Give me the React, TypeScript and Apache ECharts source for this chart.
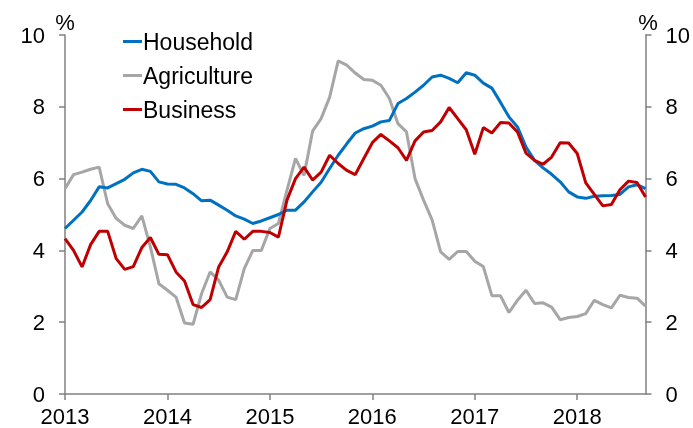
import React, { useEffect, useRef } from "react";
import * as echarts from "echarts";

// months since Jan 2013 (0 = Jan 2013 ... 68 = Sep 2018)
const household = [
  4.61, 4.84, 5.07, 5.39, 5.77, 5.74, 5.86, 5.98, 6.16, 6.26, 6.2, 5.91,
  5.85, 5.84, 5.74, 5.58, 5.38, 5.4, 5.26, 5.12, 4.96, 4.87, 4.75, 4.82,
  4.91, 5.0, 5.12, 5.12, 5.35, 5.63, 5.9, 6.28, 6.65, 6.97, 7.27, 7.39,
  7.46, 7.58, 7.62, 8.09, 8.23, 8.41, 8.6, 8.83, 8.88, 8.79, 8.67, 8.95,
  8.88, 8.66, 8.52, 8.13, 7.72, 7.44, 6.88, 6.51, 6.3, 6.12, 5.91, 5.63,
  5.49, 5.45, 5.51, 5.52, 5.53, 5.56, 5.77, 5.83, 5.72,
];
const agriculture = [
  5.72, 6.11, 6.18, 6.26, 6.32, 5.3, 4.89, 4.7, 4.61, 4.96, 4.1, 3.07,
  2.89, 2.7, 1.98, 1.94, 2.8, 3.4, 3.17, 2.7, 2.63, 3.49, 4.0, 4.0,
  4.61, 4.75, 5.67, 6.56, 6.09, 7.32, 7.67, 8.27, 9.28, 9.16, 8.94, 8.76,
  8.74, 8.6, 8.23, 7.53, 7.3, 6.0, 5.4, 4.85, 3.96, 3.75, 3.97, 3.97,
  3.7, 3.55, 2.74, 2.74, 2.27, 2.61, 2.89, 2.52, 2.54, 2.42, 2.07, 2.13,
  2.16, 2.24, 2.61, 2.49, 2.4, 2.75, 2.69, 2.67, 2.45,
];
const business = [
  4.33, 4.0, 3.54, 4.16, 4.53, 4.53, 3.77, 3.47, 3.55, 4.08, 4.36, 3.89,
  3.88, 3.4, 3.15, 2.49, 2.41, 2.63, 3.54, 3.96, 4.53, 4.31, 4.53, 4.53,
  4.5, 4.37, 5.4, 6.0, 6.32, 5.96, 6.18, 6.65, 6.42, 6.23, 6.11, 6.56,
  7.0, 7.23, 7.05, 6.86, 6.51, 7.05, 7.3, 7.34, 7.58, 7.98, 7.67, 7.36,
  6.68, 7.42, 7.27, 7.56, 7.55, 7.3, 6.71, 6.51, 6.4, 6.6, 7.0, 6.99,
  6.7, 5.88, 5.56, 5.24, 5.28, 5.69, 5.93, 5.89, 5.49,
];
const startYear = 2013;
const seriesNames = ["Household", "Agriculture", "Business"];
const colors = ["#0070C0", "#A6A6A6", "#C00000"];

const FONT = "'Liberation Sans', Arial, sans-serif";

export default function App() {
  const ref = useRef<HTMLDivElement>(null);
  useEffect(() => {
    if (!ref.current) return;
    const chart = echarts.init(ref.current, undefined, { renderer: "svg" });
    const toPairs = (arr: number[]) => arr.map((v, i) => [i, v]);
    const axisLine = { show: true, lineStyle: { color: "#808080", width: 1.5 } };
    const yAxisBase = {
      type: "value" as const,
      min: 0,
      max: 10,
      interval: 2,
      axisLine,
      axisTick: { show: true, inside: false, length: 6, lineStyle: { color: "#808080", width: 1.5 } },
      splitLine: { show: false },
      axisLabel: { color: "#000", fontSize: 22, fontFamily: FONT, margin: 20 },
    };
    chart.setOption({
      animation: false,
      textStyle: { fontFamily: FONT },
      grid: { left: 65, right: 45, top: 35, bottom: 34, containLabel: false },
      legend: {
        orient: "vertical",
        left: 118,
        top: 25,
        itemWidth: 19,
        itemHeight: 3,
        itemGap: 11,
        icon: "rect",
        data: seriesNames,
        textStyle: { color: "#000", fontSize: 23, fontFamily: FONT, padding: [0, 0, 0, -4], lineHeight: 22 },
      },
      xAxis: {
        type: "value",
        min: 0,
        max: 68,
        interval: 12,
        axisLine,
        axisTick: { show: true, length: 6, lineStyle: { color: "#808080", width: 1.5 } },
        splitLine: { show: false },
        axisLabel: {
          color: "#000",
          fontSize: 22,
          fontFamily: FONT,
          margin: 11,
          showMaxLabel: false,
          formatter: (v: number) => (v % 12 === 0 ? String(startYear + v / 12) : ""),
        },
      },
      yAxis: [
        { ...yAxisBase, position: "left" },
        { ...yAxisBase, position: "right" },
      ],
      graphic: [
        { type: "text", x: 65, y: 22, style: { text: "%", fontSize: 22, fontFamily: FONT, fill: "#000", align: "center", verticalAlign: "middle" } },
        { type: "text", x: 648, y: 22, style: { text: "%", fontSize: 22, fontFamily: FONT, fill: "#000", align: "center", verticalAlign: "middle" } },
      ],
      series: [household, agriculture, business].map((d, i) => ({
        name: seriesNames[i],
        type: "line",
        data: toPairs(d),
        symbol: "none",
        color: colors[i],
        lineStyle: { color: colors[i], width: 3 },
        z: i === 1 ? 2 : 3,
      })),
    });
    return () => chart.dispose();
  }, []);
  return <div ref={ref} style={{ position: "fixed", left: 0, top: 0, width: 693, height: 428 }} />;
}
